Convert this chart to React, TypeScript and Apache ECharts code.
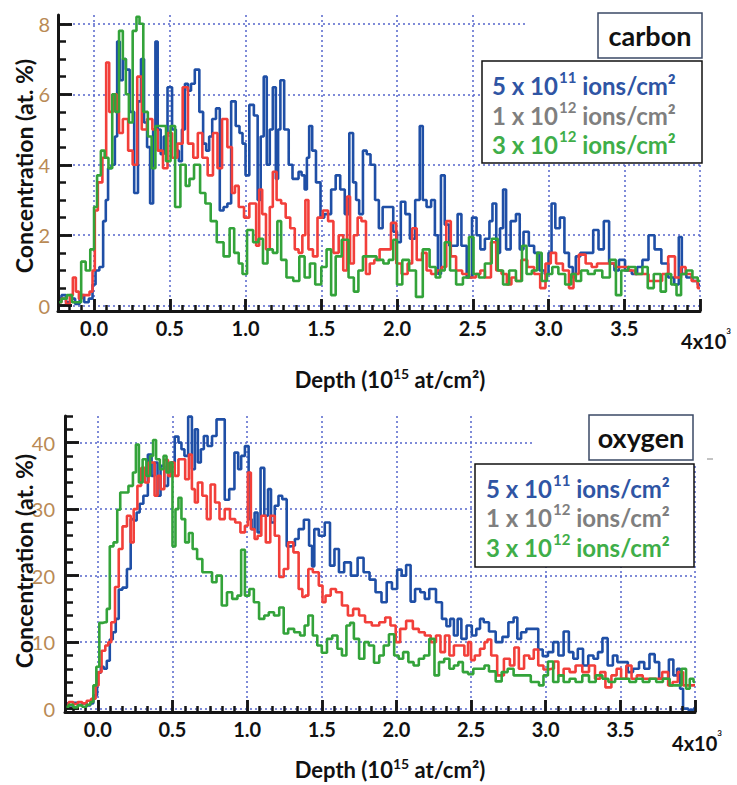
import React, { useEffect, useRef } from 'react';
import * as echarts from 'echarts';

const FONT = 'Lato, "Open Sans", "Noto Sans", sans-serif';

// ---------- axes / ticks ----------
const DEPTH_MIN_TOP = -0.238;
const DEPTH_MIN_BOTTOM = -0.22;
const DEPTH_MAX = 4;
const CARBON_RANGE = [-0.15, 8.25];
const OXYGEN_RANGE = [-0.5, 44];
const DEPTH_TICKS = [0, 0.5, 1, 1.5, 2, 2.5, 3, 3.5, 4];
const DEPTH_LABEL_TICKS = [0, 0.5, 1, 1.5, 2, 2.5, 3, 3.5];
const CARBON_TICKS = [0, 2, 4, 6, 8];
const OXYGEN_TICKS = [0, 10, 20, 30, 40];

// ---------- legend ----------
const FLUENCE_BASE = ['5 x 10', '1 x 10', '3 x 10'];
const FLUENCE_EXP = ['11', '12', '12'];
const FLUENCE_TEXT_COLORS = ['#2f55a4', '#7f7f7f', '#3fae49'];
const LINE_COLORS = ['#1f4fa6', '#f23f3a', '#33a33a'];

// ---------- carbon (at. %) ----------
const carbonLow: [number, number][] = [[-0.23,0.2],[-0.2,0.3],[-0.17,0.1],[-0.14,0.2],[-0.11,0.05],[-0.08,0.3],[-0.05,0.1],[-0.02,0.2],[0.0,0.6],[0.02,1.0],[0.05,1.1],[0.07,2.4],[0.085,3.0],[0.1,3.9],[0.13,4.0],[0.145,4.8],[0.16,7.5],[0.18,6.4],[0.2,7.0],[0.22,6.7],[0.25,5.5],[0.28,3.2],[0.3,5.8],[0.32,7.0],[0.34,5.2],[0.36,4.5],[0.38,2.9],[0.4,5.0],[0.41,7.5],[0.43,5.0],[0.45,4.3],[0.47,4.8],[0.5,6.2],[0.53,5.0],[0.55,4.4],[0.57,4.1],[0.59,5.0],[0.61,6.3],[0.63,6.1],[0.65,6.3],[0.68,6.7],[0.71,5.5],[0.73,4.6],[0.75,4.4],[0.77,4.8],[0.79,5.3],[0.82,5.6],[0.84,2.7],[0.87,2.8],[0.89,2.9],[0.92,5.8],[0.95,5.1],[0.97,4.9],[0.99,4.6],[1.01,3.7],[1.04,5.7],[1.07,5.4],[1.09,3.0],[1.11,4.8],[1.13,6.5],[1.15,4.0],[1.17,5.0],[1.19,6.2],[1.21,3.6],[1.22,5.0],[1.24,6.4],[1.27,5.0],[1.3,4.0],[1.32,3.6],[1.34,3.6],[1.36,3.8],[1.38,3.7],[1.4,3.3],[1.41,4.2],[1.43,5.1],[1.45,4.4],[1.48,3.5],[1.51,2.5],[1.53,2.6],[1.55,2.6],[1.58,3.3],[1.61,3.7],[1.64,3.3],[1.67,2.6],[1.7,4.9],[1.72,3.5],[1.74,3.0],[1.76,2.6],[1.79,4.4],[1.81,4.3],[1.84,4.0],[1.87,3.0],[1.89,2.2],[1.92,2.8],[1.96,2.8],[1.99,2.1],[2.01,1.8],[2.04,2.95],[2.07,2.6],[2.1,1.9],[2.14,3.0],[2.16,5.1],[2.18,3.0],[2.21,2.8],[2.24,3.0],[2.26,2.0],[2.28,0.9],[2.3,3.7],[2.33,2.3],[2.36,1.7],[2.39,1.7],[2.41,2.6],[2.44,1.7],[2.48,0.8],[2.51,2.5],[2.54,2.0],[2.56,1.6],[2.6,1.9],[2.62,2.4],[2.64,2.9],[2.67,1.5],[2.69,2.2],[2.71,3.3],[2.73,1.6],[2.77,2.4],[2.8,2.6],[2.82,1.6],[2.85,2.1],[2.89,1.7],[2.92,1.5],[2.96,1.0],[2.99,0.9],[3.01,1.5],[3.03,2.9],[3.06,2.2],[3.09,2.5],[3.12,1.5],[3.15,1.1],[3.17,0.8],[3.19,1.4],[3.23,1.5],[3.28,1.5],[3.31,2.15],[3.35,1.6],[3.38,2.4],[3.42,1.2],[3.45,1.0],[3.48,1.3],[3.53,1.0],[3.57,0.9],[3.6,1.1],[3.64,1.3],[3.68,2.0],[3.72,1.6],[3.77,1.2],[3.81,0.8],[3.85,0.6],[3.87,1.95],[3.89,0.9],[3.93,0.8],[3.97,0.7],[4.0,0.6]];

const carbonMid: [number, number][] = [[-0.23,0.1],[-0.2,0.2],[-0.17,0.05],[-0.15,0.3],[-0.13,0.8],[-0.11,0.4],[-0.09,0.2],[-0.07,0.3],[-0.04,0.3],[-0.02,0.4],[0.0,1.0],[0.01,2.7],[0.04,3.5],[0.07,4.2],[0.09,6.9],[0.11,5.5],[0.14,6.0],[0.16,5.5],[0.17,4.9],[0.21,5.3],[0.24,4.4],[0.27,4.0],[0.3,6.5],[0.33,5.0],[0.37,5.3],[0.4,5.0],[0.44,4.4],[0.47,3.9],[0.5,4.9],[0.53,4.2],[0.57,4.6],[0.6,6.2],[0.64,4.6],[0.67,4.2],[0.7,4.9],[0.73,4.2],[0.77,3.7],[0.8,4.9],[0.83,3.9],[0.86,5.3],[0.9,4.5],[0.92,3.2],[0.94,3.4],[0.97,2.8],[1.01,2.5],[1.04,2.9],[1.06,2.9],[1.08,1.7],[1.1,3.3],[1.12,2.6],[1.15,1.6],[1.17,2.8],[1.19,3.8],[1.22,3.0],[1.25,2.9],[1.28,2.5],[1.31,2.2],[1.34,1.6],[1.36,1.5],[1.39,2.0],[1.4,3.0],[1.43,1.6],[1.46,1.4],[1.49,2.5],[1.53,2.7],[1.56,2.4],[1.6,1.5],[1.63,2.0],[1.66,1.0],[1.68,3.1],[1.7,1.2],[1.73,2.0],[1.75,2.5],[1.78,2.4],[1.81,0.9],[1.83,1.2],[1.87,1.3],[1.9,1.6],[1.94,1.6],[1.98,2.35],[2.01,1.2],[2.05,0.9],[2.09,1.2],[2.11,2.2],[2.15,1.3],[2.18,1.5],[2.21,1.0],[2.24,0.9],[2.28,1.0],[2.31,1.1],[2.34,2.4],[2.37,1.4],[2.41,1.0],[2.45,0.9],[2.5,0.8],[2.54,0.9],[2.56,1.0],[2.6,0.8],[2.64,1.8],[2.67,1.0],[2.71,0.9],[2.74,0.6],[2.77,0.8],[2.8,0.7],[2.84,1.3],[2.88,1.1],[2.93,0.9],[2.96,0.5],[3.0,1.2],[3.03,1.5],[3.07,1.2],[3.12,1.0],[3.15,0.5],[3.18,0.9],[3.22,1.45],[3.27,1.2],[3.3,1.1],[3.34,1.2],[3.38,1.2],[3.42,1.2],[3.46,1.1],[3.51,1.1],[3.55,1.0],[3.59,0.9],[3.64,0.9],[3.68,0.7],[3.73,0.7],[3.77,0.9],[3.81,1.4],[3.86,0.8],[3.89,1.1],[3.92,0.9],[3.97,0.7],[4.0,0.5]];

const carbonHigh: [number, number][] = [[-0.23,0.1],[-0.2,0.2],[-0.16,0.3],[-0.13,0.1],[-0.1,0.1],[-0.07,1.25],[-0.04,1.0],[-0.01,1.6],[0.01,2.8],[0.03,3.7],[0.06,4.4],[0.08,4.2],[0.11,3.9],[0.13,6.0],[0.15,5.5],[0.18,7.8],[0.2,7.0],[0.22,6.0],[0.24,5.2],[0.27,7.8],[0.29,8.2],[0.31,8.0],[0.34,5.5],[0.37,4.8],[0.39,3.9],[0.42,5.1],[0.46,5.1],[0.49,4.1],[0.52,5.1],[0.55,2.8],[0.59,4.0],[0.62,3.4],[0.64,3.6],[0.68,4.0],[0.72,3.2],[0.75,2.9],[0.79,2.4],[0.83,1.8],[0.88,1.4],[0.91,2.2],[0.94,1.5],[0.97,1.2],[0.99,0.9],[1.03,2.15],[1.07,1.8],[1.1,1.9],[1.13,1.2],[1.16,1.6],[1.2,1.5],[1.22,2.4],[1.25,1.3],[1.29,0.8],[1.34,0.7],[1.37,1.4],[1.41,0.8],[1.44,1.2],[1.48,0.6],[1.52,1.1],[1.55,1.6],[1.58,0.3],[1.61,1.4],[1.66,1.87],[1.7,0.8],[1.73,0.4],[1.76,1.0],[1.79,1.4],[1.84,1.4],[1.89,1.3],[1.93,1.2],[1.96,1.3],[1.99,1.87],[2.01,0.6],[2.06,1.3],[2.1,1.0],[2.15,0.25],[2.19,1.6],[2.24,1.1],[2.27,0.8],[2.3,1.0],[2.33,1.8],[2.37,1.0],[2.41,0.6],[2.46,0.8],[2.49,1.95],[2.52,0.9],[2.56,0.8],[2.6,1.2],[2.65,1.9],[2.68,1.0],[2.72,0.6],[2.76,1.0],[2.81,0.7],[2.84,1.7],[2.87,0.9],[2.91,1.0],[2.94,1.5],[2.97,0.7],[3.01,0.9],[3.04,1.1],[3.09,0.9],[3.13,0.6],[3.17,0.9],[3.19,0.7],[3.24,1.0],[3.28,0.9],[3.33,1.0],[3.38,0.8],[3.43,1.3],[3.46,0.3],[3.5,1.0],[3.55,1.1],[3.6,0.9],[3.64,1.1],[3.67,0.5],[3.72,0.9],[3.76,0.4],[3.79,0.9],[3.83,0.6],[3.86,0.3],[3.89,0.9],[3.93,1.0],[3.97,0.8],[4.0,0.7]];

// ---------- oxygen (at. %) ----------
const oxygenLow: [number, number][] = [[-0.21,0.8],[-0.18,0.5],[-0.15,0.9],[-0.12,0.6],[-0.09,0.8],[-0.06,0.5],[-0.04,0.8],[-0.02,2.0],[0.01,5.4],[0.03,6.3],[0.05,6.0],[0.07,7.2],[0.09,10.4],[0.11,11.5],[0.13,13.5],[0.15,17.9],[0.18,18.2],[0.21,21],[0.23,28.5],[0.25,28.3],[0.27,29.5],[0.29,30.8],[0.32,32],[0.35,38.2],[0.37,35],[0.39,37],[0.41,32],[0.43,36.5],[0.46,33.5],[0.48,35],[0.5,37],[0.53,40.9],[0.55,40],[0.57,39],[0.59,38],[0.62,43.9],[0.64,36],[0.66,42],[0.68,37],[0.7,39],[0.72,41],[0.75,39.5],[0.78,41],[0.81,43.5],[0.84,43.5],[0.86,31.4],[0.9,33],[0.93,38.5],[0.95,36],[0.97,38],[1.0,39.5],[1.02,28.5],[1.04,27],[1.06,29.5],[1.08,26.5],[1.1,36.2],[1.13,29],[1.15,33],[1.17,28],[1.2,30.5],[1.22,32],[1.25,31.5],[1.28,24.4],[1.31,24.5],[1.33,25.5],[1.36,27],[1.4,28.4],[1.43,24.5],[1.44,21.4],[1.46,27],[1.5,26],[1.54,28],[1.57,21.5],[1.6,24],[1.63,20.5],[1.67,22],[1.72,20],[1.76,22.7],[1.8,20.5],[1.84,19.4],[1.88,17.5],[1.92,16],[1.95,19],[1.99,18],[2.02,20.9],[2.05,20],[2.08,21.6],[2.11,16.1],[2.14,18],[2.18,17.5],[2.2,16.5],[2.24,18],[2.29,16],[2.32,13.5],[2.35,12.4],[2.37,13.5],[2.4,11],[2.42,13.5],[2.45,10.5],[2.49,12.5],[2.52,11],[2.55,12],[2.57,13.5],[2.6,13],[2.64,11.6],[2.69,10],[2.73,10.8],[2.77,13],[2.8,13.7],[2.82,10.5],[2.85,11.5],[2.89,12],[2.92,12],[2.94,12],[2.96,8.9],[3.0,7.9],[3.03,8.5],[3.07,10],[3.1,8],[3.14,11.6],[3.17,8.5],[3.2,7.5],[3.23,9],[3.27,6.5],[3.3,8],[3.34,7.5],[3.36,8.5],[3.4,10.6],[3.43,6.5],[3.47,8],[3.49,7],[3.54,7],[3.56,5.5],[3.61,6],[3.64,7],[3.68,6],[3.71,8.2],[3.75,7],[3.77,4.5],[3.81,4.5],[3.84,7.4],[3.87,5],[3.89,6],[3.91,3],[3.93,0],[3.98,-0.2],[4.0,0]];

const oxygenMid: [number, number][] = [[-0.21,0.6],[-0.18,1.0],[-0.15,0.7],[-0.12,1.0],[-0.09,0.8],[-0.06,1.2],[-0.03,1.5],[0.0,3.5],[0.01,5.5],[0.04,8.7],[0.06,9.5],[0.08,10],[0.1,13],[0.13,18.3],[0.15,24],[0.18,27.4],[0.21,29],[0.23,25],[0.25,30],[0.28,33.5],[0.3,36.2],[0.33,34],[0.35,37],[0.37,37],[0.39,32],[0.41,35],[0.43,33],[0.46,37.4],[0.48,35],[0.5,37],[0.53,35],[0.55,37.5],[0.57,37.5],[0.6,34.5],[0.62,38.2],[0.64,33],[0.66,31],[0.68,34],[0.72,32],[0.74,28.5],[0.77,33.7],[0.8,31],[0.83,28.5],[0.87,30],[0.9,28.5],[0.94,28],[0.97,26.5],[1.0,27.5],[1.01,35.5],[1.04,27],[1.06,25.5],[1.08,26],[1.11,29],[1.14,25],[1.17,29],[1.2,26],[1.23,19.8],[1.26,21],[1.29,25],[1.33,23.5],[1.36,18],[1.38,16.8],[1.4,17],[1.42,21],[1.46,20.5],[1.5,18.5],[1.51,16],[1.54,17],[1.58,18],[1.61,17.5],[1.66,15.5],[1.69,14],[1.73,15],[1.77,14],[1.81,13],[1.86,12.5],[1.91,13],[1.94,13.7],[1.98,12.5],[2.01,10],[2.04,12],[2.09,13.2],[2.13,12],[2.17,11.5],[2.21,11],[2.25,10],[2.28,11],[2.31,8.5],[2.34,11],[2.37,8],[2.4,9.5],[2.44,9.5],[2.47,8],[2.49,10],[2.51,7.3],[2.54,8],[2.58,9],[2.6,10],[2.62,10.4],[2.65,8],[2.7,5],[2.74,7.5],[2.78,6.5],[2.8,9.2],[2.84,6],[2.87,8],[2.91,7.5],[2.93,8.9],[2.97,6.5],[3.0,5.9],[3.04,6],[3.07,7.1],[3.1,5],[3.14,6],[3.18,5.5],[3.22,6.5],[3.27,5.5],[3.31,6.5],[3.35,4.5],[3.38,5.5],[3.42,3.2],[3.46,5],[3.49,6],[3.52,4.5],[3.56,6.5],[3.59,4.5],[3.63,5],[3.67,4.5],[3.71,4.5],[3.75,4.5],[3.81,5.5],[3.83,3.5],[3.87,4],[3.9,5.5],[3.94,3.5],[4.0,3.5]];

const oxygenHigh: [number, number][] = [[-0.21,0.3],[-0.18,0.6],[-0.15,0.2],[-0.12,0.5],[-0.09,0.3],[-0.06,0.6],[-0.04,1.0],[-0.02,3.5],[0.0,6.3],[0.02,12.9],[0.05,13],[0.07,15],[0.09,24.4],[0.12,25],[0.14,29.9],[0.16,32.5],[0.19,32.5],[0.22,33.5],[0.25,35.5],[0.26,39.7],[0.29,34],[0.31,37.5],[0.34,35],[0.36,38],[0.38,40.4],[0.4,37.5],[0.43,36],[0.45,38],[0.47,35.5],[0.49,37],[0.51,24.4],[0.53,30],[0.55,31.7],[0.57,28.5],[0.6,25],[0.62,26.4],[0.65,24],[0.68,22.5],[0.72,20.5],[0.75,20.5],[0.78,19],[0.81,20],[0.85,15.5],[0.88,17.5],[0.92,16.5],[0.95,17],[0.97,23.9],[1.0,17],[1.03,18],[1.06,16],[1.1,13.5],[1.13,14],[1.16,14.5],[1.2,14],[1.23,15.2],[1.26,11.3],[1.29,12],[1.34,11.5],[1.37,11],[1.4,12.5],[1.42,14],[1.46,11],[1.48,9.5],[1.52,8.4],[1.55,10.5],[1.59,11],[1.62,9],[1.65,8],[1.68,12.5],[1.7,12.9],[1.73,10.5],[1.77,7.5],[1.8,10],[1.83,9.5],[1.87,6.9],[1.9,8],[1.93,9.5],[1.97,11.2],[2.0,8],[2.03,7.5],[2.06,8.5],[2.1,7],[2.13,6.5],[2.17,7.5],[2.2,8],[2.24,10.5],[2.27,5],[2.3,7],[2.34,7.5],[2.37,6],[2.4,6.5],[2.43,7],[2.46,5.5],[2.5,5.2],[2.53,6],[2.58,6],[2.6,6.5],[2.64,5.6],[2.69,4.1],[2.72,5.5],[2.77,6],[2.8,5],[2.84,5],[2.89,5],[2.91,4],[2.94,4],[2.97,3.5],[3.0,5],[3.03,7.1],[3.07,4],[3.1,5],[3.14,4],[3.18,4.5],[3.22,4],[3.27,5],[3.31,4],[3.36,5],[3.4,4.5],[3.44,4],[3.49,4.5],[3.54,4.5],[3.58,4],[3.63,4.5],[3.67,4],[3.72,4.5],[3.76,4],[3.81,4.5],[3.85,3.5],[3.89,3.5],[3.93,6],[3.95,3],[3.98,4.5],[4.0,4]];

// ---------- helpers ----------
const r6 = (v: number) => +v.toFixed(6);
function minorTicks(min: number, max: number, step: number, perMajor: number) {
  const out: number[] = [];
  const k0 = Math.ceil(min / step - 1e-9);
  const k1 = Math.floor(max / step + 1e-9);
  for (let k = k0; k <= k1; k++) if (k % perMajor !== 0) out.push(r6(k * step));
  return out;
}

const GRIDS = [
  { left: 58, top: 15, width: 642, height: 296 },
  { left: 65, top: 416, width: 630, height: 296 },
];

const GRID_LINE = { show: true, lineStyle: { color: '#5566cc', width: 1.5, type: [2, 3] } };

function dataX(gridIndex: number, min: number) {
  return {
    type: 'value', gridIndex, min, max: DEPTH_MAX, position: 'bottom',
    axisLine: { show: true, onZero: false, lineStyle: { color: '#111', width: 3 } },
    axisTick: { show: true, inside: true, length: 12, lineStyle: { color: '#111', width: 2.5 }, customValues: DEPTH_TICKS },
    axisLabel: {
      show: true, customValues: DEPTH_LABEL_TICKS, formatter: (v: number) => v.toFixed(1),
      fontFamily: FONT, fontWeight: 'bold', fontSize: 20, color: '#111', margin: 7,
    },
    splitLine: GRID_LINE,
  };
}
function dataY(gridIndex: number, range: number[], ticks: number[], margin: number) {
  return {
    type: 'value', gridIndex, min: range[0], max: range[1], position: 'left',
    axisLine: { show: true, onZero: false, lineStyle: { color: '#111', width: 3 } },
    axisTick: { show: true, inside: true, length: 14, lineStyle: { color: '#111', width: 2.5 }, customValues: ticks },
    axisLabel: {
      show: true, customValues: ticks, formatter: (v: number) => String(v),
      fontFamily: FONT, fontSize: 20, color: '#b98a55', margin,
    },
    splitLine: GRID_LINE,
  };
}

// axis frame + inward ticks as mark lines of a series, placed in data coordinates
function frameMarkLine(g: { width: number; height: number }, xr: number[], yr: number[],
  xMajor: number[], xMinor: number[], yMajor: number[], yMinor: number[]) {
  const dyPerPx = (yr[1] - yr[0]) / g.height;
  const dxPerPx = (xr[1] - xr[0]) / g.width;
  const data: any[] = [];
  const seg = (a: number[], b: number[], w: number) =>
    data.push([{ coord: a, lineStyle: { width: w, color: '#151515', type: 'solid' } }, { coord: b }]);
  seg([xr[0], yr[0]], [xr[0], yr[1]], 3);
  seg([xr[0], yr[0]], [xr[1], yr[0]], 3);
  xMajor.forEach((t) => seg([t, yr[0]], [t, yr[0] + 12 * dyPerPx], 2.5));
  xMinor.forEach((t) => seg([t, yr[0]], [t, yr[0] + 6 * dyPerPx], 2.5));
  yMajor.forEach((t) => seg([xr[0], t], [xr[0] + 14 * dxPerPx, t], 2.5));
  yMinor.forEach((t) => seg([xr[0], t], [xr[0] + 8 * dxPerPx, t], 2.5));
  return {
    silent: true, symbol: ['none', 'none'], label: { show: false }, animation: false,
    emphasis: { disabled: true },
    lineStyle: { color: '#151515', width: 2.5, type: 'solid' },
    data,
  };
}

function legendTexts(x: number, ys: number[]) {
  return FLUENCE_BASE.map((base, i) => ({
    type: 'text', x, y: ys[i], z: 110,
    style: {
      text: `{m|${base}}{s|${FLUENCE_EXP[i]}}{m| ions/cm²}`,
      verticalAlign: 'middle', align: 'left',
      rich: {
        m: { fontFamily: FONT, fontWeight: 'bold', fontSize: 24, fill: FLUENCE_TEXT_COLORS[i], lineHeight: 28, verticalAlign: 'bottom' },
        s: { fontFamily: FONT, fontWeight: 'bold', fontSize: 15, fill: FLUENCE_TEXT_COLORS[i], lineHeight: 28, verticalAlign: 'top', padding: [0, 0, 0, 1] },
      },
    },
  }));
}

function depthTitle(x: number, y: number) {
  return {
    type: 'text', x, y, z: 110,
    style: {
      text: '{a|Depth (10}{b|15}{a| at/cm²)}', align: 'center', verticalAlign: 'middle',
      rich: {
        a: { fontFamily: FONT, fontWeight: 'bold', fontSize: 22, fill: '#111', lineHeight: 24, verticalAlign: 'bottom' },
        b: { fontFamily: FONT, fontWeight: 'bold', fontSize: 14, fill: '#111', lineHeight: 24, verticalAlign: 'top' },
      },
    },
  };
}

function endLabel(x: number, y: number) {
  return {
    type: 'text', x, y, z: 110,
    style: {
      text: '{a|4x10}{b|3}', align: 'center', verticalAlign: 'middle',
      rich: {
        a: { fontFamily: FONT, fontWeight: 'bold', fontSize: 20, fill: '#111', lineHeight: 24, verticalAlign: 'bottom' },
        b: { fontFamily: FONT, fontWeight: 'bold', fontSize: 8, fill: '#111', lineHeight: 24, verticalAlign: 'top' },
      },
    },
  };
}

function concTitle(x: number, y: number) {
  return {
    type: 'text', x, y, rotation: Math.PI / 2, z: 110,
    style: { text: 'Concentration (at. %)', align: 'center', verticalAlign: 'middle', fontFamily: FONT, fontWeight: 'bold', fontSize: 23, fill: '#111' },
  };
}

function boxWithLabel(x: number, y: number, w: number, h: number, label: string) {
  return [
    { type: 'rect', z: 105, shape: { x, y, width: w, height: h }, style: { fill: '#fff', stroke: '#3b4a66', lineWidth: 1.5 } },
    { type: 'text', z: 110, x: x + w / 2, y: y + h / 2, style: { text: label, align: 'center', verticalAlign: 'middle', fontFamily: FONT, fontWeight: 'bold', fontSize: 27, fill: '#111' } },
  ];
}

export default function App() {
  const ref = useRef<HTMLDivElement>(null);
  useEffect(() => {
    if (!ref.current) return;
    const chart = echarts.init(ref.current, null, { renderer: 'svg' });
    const frames = [
      frameMarkLine(GRIDS[0], [DEPTH_MIN_TOP, DEPTH_MAX], CARBON_RANGE, DEPTH_TICKS,
        minorTicks(DEPTH_MIN_TOP, DEPTH_MAX, 1 / 12, 6), CARBON_TICKS, minorTicks(0, CARBON_RANGE[1], 0.5, 4)),
      frameMarkLine(GRIDS[1], [DEPTH_MIN_BOTTOM, DEPTH_MAX], OXYGEN_RANGE, DEPTH_TICKS,
        minorTicks(DEPTH_MIN_BOTTOM, DEPTH_MAX, 1 / 12, 6), OXYGEN_TICKS, minorTicks(0, OXYGEN_RANGE[1], 2, 5)),
    ];
    const seriesFor = (idx: number, sets: [number, number][][]) =>
      sets.map((data, i) => ({
        type: 'line', xAxisIndex: idx, yAxisIndex: idx, data, showSymbol: false, symbol: 'none', step: 'middle',
        clip: false,
        lineStyle: { color: LINE_COLORS[i], width: 2.6 }, itemStyle: { color: LINE_COLORS[i] }, z: 3 + i,
        ...(i === 2 ? { markLine: frames[idx] } : {}),
      }));
    const option: any = {
      animation: false,
      backgroundColor: '#fff',
      grid: GRIDS.map((g) => ({ ...g, show: false })),
      xAxis: [dataX(0, DEPTH_MIN_TOP), dataX(1, DEPTH_MIN_BOTTOM)],
      yAxis: [dataY(0, CARBON_RANGE, CARBON_TICKS, 8), dataY(1, OXYGEN_RANGE, OXYGEN_TICKS, 10)],
      series: [
        ...seriesFor(0, [carbonLow, carbonMid, carbonHigh]),
        ...seriesFor(1, [oxygenLow, oxygenMid, oxygenHigh]),
      ],
      graphic: [
        { type: 'rect', z: 100, shape: { x: 528, y: 8, width: 180, height: 54 }, style: { fill: '#fff' } },
        ...boxWithLabel(598, 13, 104, 45, 'carbon'),
        { type: 'rect', z: 105, shape: { x: 482, y: 61, width: 220, height: 102 }, style: { fill: '#fff', stroke: '#111', lineWidth: 1.5 } },
        ...legendTexts(492, [83, 113, 142]),
        { type: 'rect', z: 100, shape: { x: 533, y: 410, width: 175, height: 56 }, style: { fill: '#fff' } },
        ...boxWithLabel(589, 415, 104, 45, 'oxygen'),
        { type: 'rect', z: 105, shape: { x: 475, y: 464, width: 219, height: 103 }, style: { fill: '#fff', stroke: '#111', lineWidth: 1.5 } },
        ...legendTexts(486, [486, 515, 545]),
        { type: 'line', z: 105, shape: { x1: 707, y1: 459, x2: 713, y2: 459 }, style: { stroke: '#888', lineWidth: 1 } },
        concTitle(24, 166),
        concTitle(24, 561),
        endLabel(706, 339),
        endLabel(697, 741),
        depthTitle(390, 378),
        depthTitle(390, 768),
      ],
    };
    chart.setOption(option);
    return () => chart.dispose();
  }, []);
  return <div ref={ref} style={{ position: 'absolute', left: 0, top: 0, width: 737, height: 785, background: '#fff' }} />;
}
